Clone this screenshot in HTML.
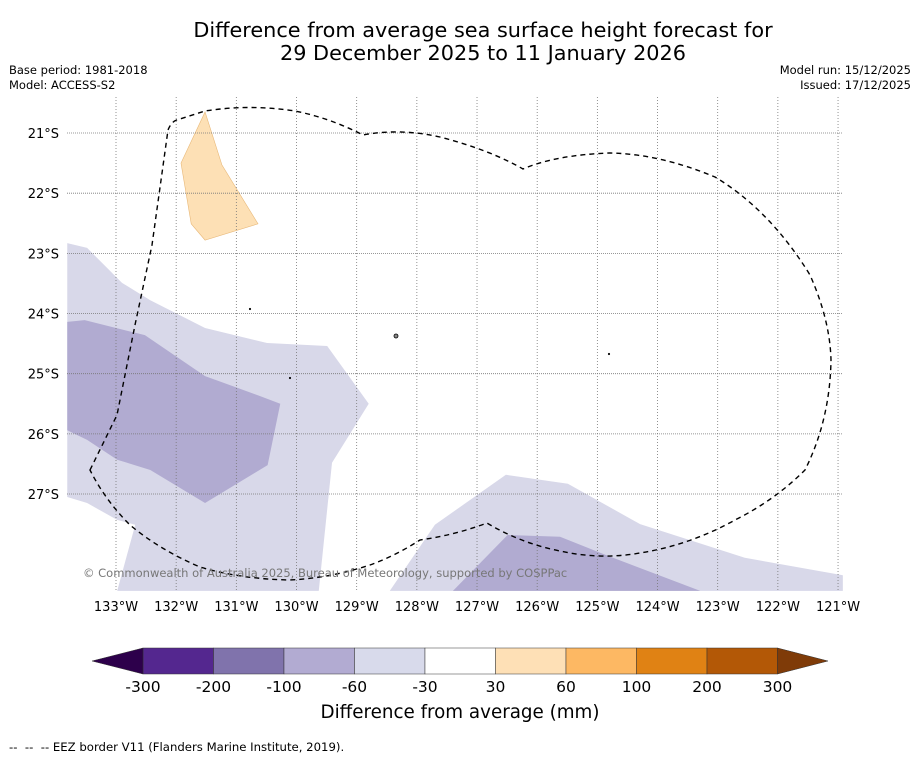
<!DOCTYPE html>
<html><head><meta charset="utf-8"><style>
body{margin:0;background:#fff;font-family:"DejaVu Sans","Liberation Sans",sans-serif}
#wrap{position:relative;width:919px;height:758px;overflow:hidden}
.t{position:absolute;white-space:nowrap}
</style></head><body>
<div id="wrap">
<div class="t" style="left:0;width:966px;top:19px;text-align:center;font-size:20.8px;line-height:23px">Difference from average sea surface height forecast for<br>29 December 2025 to 11 January 2026</div>
<div class="t" style="left:9px;top:63px;font-size:11.5px;line-height:15px">Base period: 1981-2018<br>Model: ACCESS-S2</div>
<div class="t" style="right:8px;top:63px;font-size:11.5px;line-height:15px;text-align:right">Model run: 15/12/2025<br>Issued: 17/12/2025</div>
<svg id="map" width="919" height="758" style="position:absolute;left:0;top:0"></svg>
<div class="t" style="left:260px;width:400px;text-align:center;top:702px;font-size:18.3px">Difference from average (mm)</div>
<div class="t" style="left:9px;top:740px;font-size:11.7px">--&nbsp; --&nbsp; -- EEZ border V11 (Flanders Marine Institute, 2019).</div>
</div>
<script>
const lonTicks=[133,132,131,130,129,128,127,126,125,124,123,122,121];
const latTicks=[21,22,23,24,25,26,27];
const cbLevels=[-300,-200,-100,-60,-30,30,60,100,200,300];
const cbColors=['#54278f','#8073ac','#b2abd2','#d8daeb','#ffffff','#fee0b6','#fdb863','#e08214','#b35806'];
const lightWest=[[133.81,22.83],[133.48,22.91],[132.9,23.49],[132.43,23.78],[131.52,24.24],[130.49,24.49],[129.49,24.54],[128.8,25.5],[129.41,26.48],[129.63,28.61],[132.98,28.61],[132.68,27.51],[132.98,27.43],[133.48,27.15],[133.81,27.05]];
const darkWest=[[133.81,24.14],[133.52,24.11],[132.52,24.36],[131.52,25.04],[130.61,25.37],[130.27,25.5],[130.48,26.52],[131.52,27.15],[132.43,26.6],[132.98,26.43],[133.48,26.1],[133.81,25.94]];
const lightEast=[[128.45,28.61],[127.7,27.51],[126.52,26.68],[125.49,26.83],[124.29,27.5],[122.55,28.06],[120.92,28.35],[120.92,28.61]];
const darkEast=[[127.4,28.61],[126.49,27.68],[125.62,27.71],[124.87,28.01],[123.29,28.61]];
const orangeNorth=[[131.92,21.5],[131.52,20.65],[131.24,21.53],[130.64,22.51],[131.52,22.78],[131.75,22.51]];
const x=lon=>116+(133-lon)*60.17, y=lat=>133+(lat-21)*60.17;
const NS='http://www.w3.org/2000/svg', svg=document.getElementById('map');
const FF='DejaVu Sans, Liberation Sans, sans-serif';
function mk(tag,attrs,parent){const e=document.createElementNS(NS,tag);for(const k in attrs)e.setAttribute(k,attrs[k]);(parent||svg).appendChild(e);return e;}
const clip=mk('clipPath',{id:'mc'});mk('rect',{x:67,y:97,width:776,height:494},clip);
const g=mk('g',{'clip-path':'url(#mc)'});
function poly(pts,fill,name,stroke){const p=mk('polygon',{points:pts.map(q=>x(q[0])+','+y(q[1])).join(' '),fill:fill,stroke:stroke||'none','stroke-width':0.6},g);

}
poly(lightWest,'#d8d8e9','anomaly-light-west');
poly(darkWest,'#b1abd1','anomaly-dark-west');
poly(lightEast,'#d8d8e9','anomaly-light-east');
poly(darkEast,'#b1abd1','anomaly-dark-east');
poly(orangeNorth,'#fde0b5','anomaly-orange-north','#e8b878');
lonTicks.forEach(l=>{const xx=x(l);
const ln=mk('line',{x1:xx,x2:xx,y1:97,y2:591,stroke:'#777','stroke-width':0.8,'stroke-dasharray':'1,2'});


const t=mk('text',{x:xx,y:611,'font-size':13,'text-anchor':'middle','font-family':FF});t.textContent=l+'°W';

});
latTicks.forEach(l=>{const yy=y(l);
const ln=mk('line',{x1:67,x2:843,y1:yy,y2:yy,stroke:'#777','stroke-width':0.8,'stroke-dasharray':'1,1'});


const t=mk('text',{x:59,y:yy+5,'font-size':13,'text-anchor':'end','font-family':FF});t.textContent=l+'°S';

});
[[396,336,2],[250,309,0.7],[290,378,0.7],[609,354,0.7]].forEach(d=>{const c=mk('circle',{cx:d[0],cy:d[1],r:d[2],fill:'#888',stroke:'#000','stroke-width':0.8});

});
const eez=mk('path',{d:'M90,470 L117,415 L135,325 L152,245 L168,130 Q172,120 180,119 L205,111 Q250,104 295,111 Q330,118 363,135 Q400,128 440,137 Q490,150 523,169 Q555,155 610,153 Q660,154 715,177 Q770,210 810,275 Q830,320 831,360 Q830,420 805,470 Q775,500 735,520 Q690,545 640,553 Q600,560 560,551 Q520,543 487,523 Q455,535 420,540 Q395,556 370,565 Q330,578 290,580 Q240,579 200,567 Q160,550 130,525 Q105,500 90,470 Z',fill:'none',stroke:'#000','stroke-width':1.4,'stroke-dasharray':'5,4'});


const cp=mk('text',{x:83,y:577,'font-size':11.5,fill:'#777','font-family':FF});cp.textContent='© Commonwealth of Australia 2025, Bureau of Meteorology, supported by COSPPac';


const cbX=i=>143+i*70.5, cbTop=648, cbBot=674;
cbColors.forEach((c,i)=>{const r=mk('rect',{x:cbX(i),y:cbTop,width:70.5,height:cbBot-cbTop,fill:c,stroke:'#333','stroke-width':0.5});

});
const lt=mk('polygon',{points:`${cbX(0)},${cbTop} ${cbX(0)},${cbBot} 92,661`,fill:'#2d004b',stroke:'#333','stroke-width':0.5});


const rt=mk('polygon',{points:`${cbX(9)},${cbTop} ${cbX(9)},${cbBot} 828,661`,fill:'#7f3b08',stroke:'#333','stroke-width':0.5});


cbLevels.forEach((v,i)=>{const t=mk('text',{x:cbX(i),y:692,'font-size':15.5,'text-anchor':'middle','font-family':FF});t.textContent=v;

});
</script>
</body></html>
